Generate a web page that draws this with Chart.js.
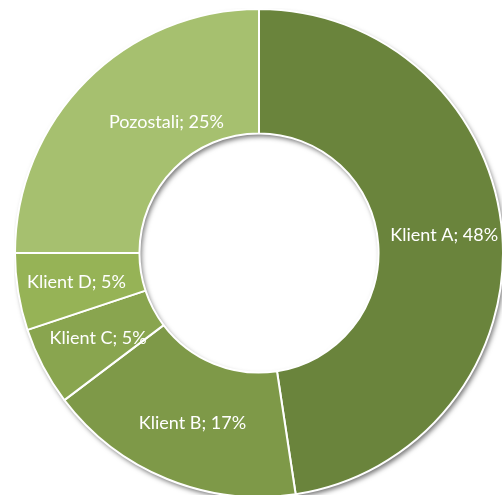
<!DOCTYPE html>
<html>
<head>
<meta charset="utf-8">
<script src="https://cdn.jsdelivr.net/npm/chart.js@4.4.0/dist/chart.umd.min.js"></script>
<style>
  html, body { margin:0; padding:0; background:#fff; overflow:hidden; width:502px; height:495px; }
  #wrap { position:absolute; left:14px; top:8px; width:490px; height:490px; }
</style>
</head>
<body>
<div id="wrap"><canvas id="chart" width="490" height="490"></canvas></div>
<script>
const categories = ['Klient A', 'Klient B', 'Klient C', 'Klient D', 'Pozostali'];
const shares = [47.6, 17.1, 5.2, 5.1, 25.0];
const colors = ['#6a843c', '#7e9948', '#89a54f', '#96b356', '#a6c06f'];

// drobne przesunięcia etykiet (jak w Excelu)
const labelNudge = [[4,-4],[2,2],[0,1],[-3,0],[36,-2]];

const ringShadow = {
  id: 'ringShadow',
  beforeDatasetsDraw(chart){
    const a = chart.getDatasetMeta(0).data[0];
    if (!a) return;
    const ctx = chart.ctx;
    ctx.save();
    ctx.shadowColor = 'rgba(0,0,0,0.55)';
    ctx.shadowBlur = 5;
    ctx.shadowOffsetX = 2;
    ctx.shadowOffsetY = 3;
    ctx.beginPath();
    ctx.arc(a.x, a.y, a.outerRadius, 0, Math.PI*2);
    ctx.arc(a.x, a.y, a.innerRadius, 0, Math.PI*2, true);
    ctx.fillStyle = '#fff';
    ctx.fill();
    ctx.restore();
  }
};

const sliceLabels = {
  id: 'sliceLabels',
  afterDatasetsDraw(chart){
    const ctx = chart.ctx;
    const meta = chart.getDatasetMeta(0);
    ctx.save();
    ctx.fillStyle = '#fff';
    ctx.font = '18px Lato, "Open Sans", sans-serif';
    ctx.textAlign = 'center';
    ctx.textBaseline = 'middle';
    meta.data.forEach((arc, i) => {
      const p = arc.tooltipPosition();
      const n = labelNudge[i] || [0,0];
      const txt = categories[i] + '; ' + Math.round(shares[i]) + '%';
      ctx.fillText(txt, p.x + n[0], p.y + n[1]);
    });
    ctx.restore();
  }
};

new Chart(document.getElementById('chart').getContext('2d'), {
  type: 'doughnut',
  data: {
    labels: categories,
    datasets: [{
      data: shares,
      backgroundColor: colors,
      borderColor: '#fff',
      borderWidth: 2
    }]
  },
  options: {
    responsive: false,
    animation: false,
    cutout: '49%',
    layout: { padding: 0 },
    plugins: { legend: {display:false}, tooltip: {enabled:false} }
  },
  plugins: [ringShadow, sliceLabels]
});
</script>
</body>
</html>
